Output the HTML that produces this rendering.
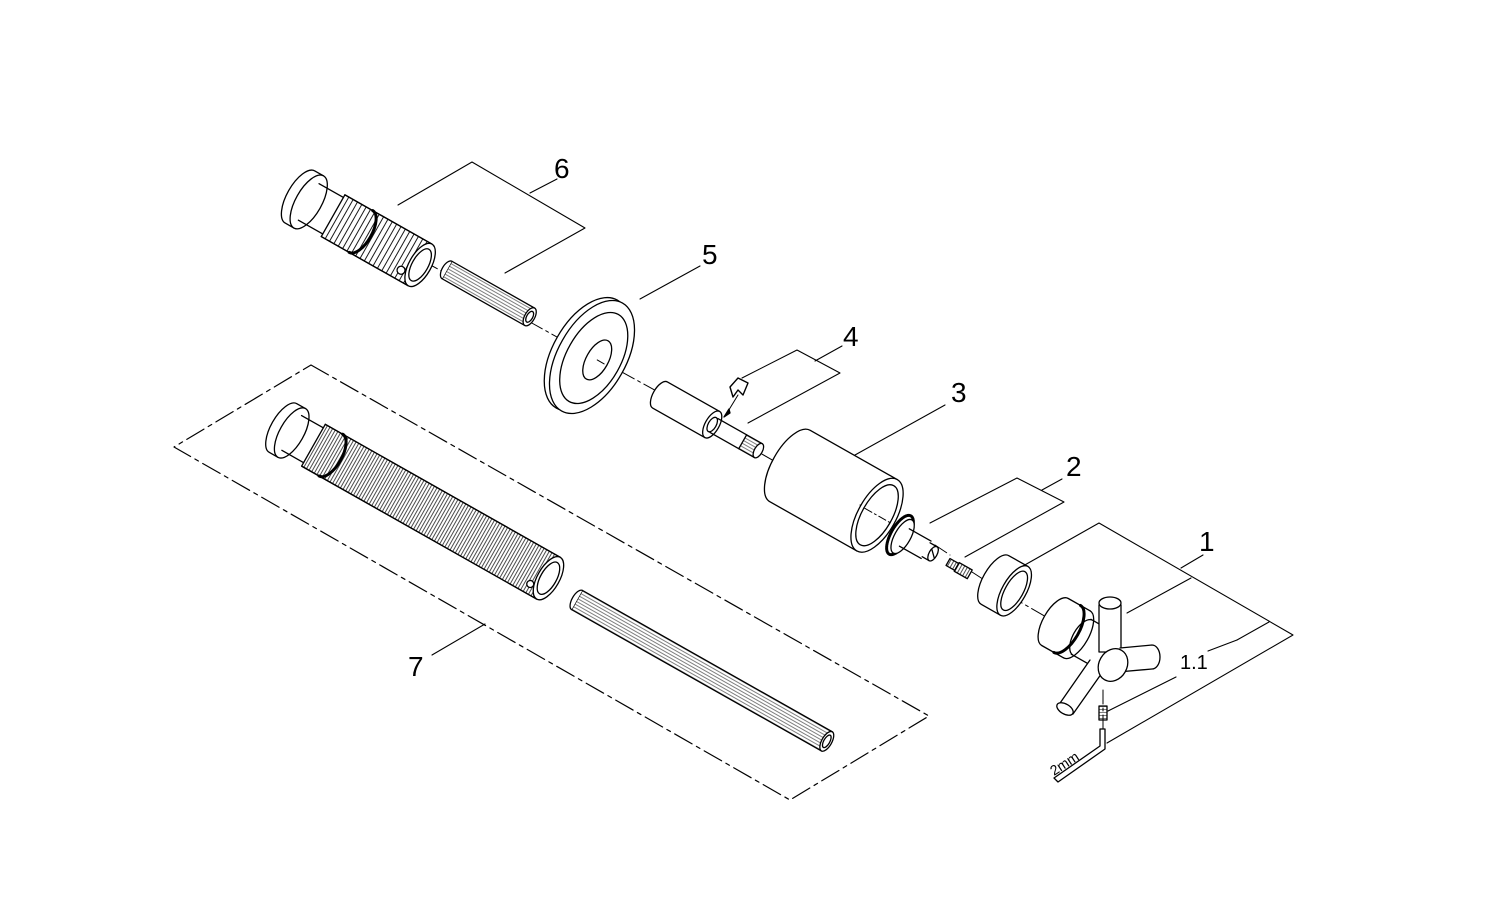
<!DOCTYPE html>
<html><head><meta charset="utf-8"><style>
html,body{margin:0;padding:0;background:#fff;}
svg{display:block}
text{font-family:"Liberation Sans",sans-serif;fill:#000}
</style></head><body>
<svg width="1500" height="899" viewBox="0 0 1500 899" xmlns="http://www.w3.org/2000/svg" fill="none" stroke="#000" stroke-width="1.3" stroke-linejoin="round" stroke-linecap="round">
<defs>
<pattern id="thr" width="5" height="100" patternUnits="userSpaceOnUse"><line x1="2.5" y1="0" x2="2.5" y2="100" stroke="#000" stroke-width="0.9"/></pattern>
<pattern id="thr2" width="3" height="100" patternUnits="userSpaceOnUse"><line x1="1.5" y1="0" x2="1.5" y2="100" stroke="#000" stroke-width="0.7"/></pattern>
<pattern id="flute" width="100" height="3" patternUnits="userSpaceOnUse"><line x1="0" y1="1.5" x2="100" y2="1.5" stroke="#000" stroke-width="0.6"/></pattern>
</defs>

<!-- center lines -->
<g stroke-dasharray="14,4,3,4" stroke-width="1">
<line x1="425" y1="262" x2="445" y2="273"/>
<line x1="530" y1="322" x2="575" y2="347"/>
<line x1="600" y1="360" x2="660" y2="393"/>
<line x1="760" y1="453" x2="790" y2="470"/>
<line x1="860" y1="505" x2="900" y2="527"/>
<line x1="935" y1="545" x2="950" y2="555"/>
<line x1="972" y1="572" x2="992" y2="585"/>
<line x1="1010" y1="596" x2="1060" y2="625"/>
<line x1="1103" y1="690" x2="1103" y2="735"/>
</g>

<!-- Part 6 threaded body -->
<g transform="translate(300,197) rotate(29.5)">
<path d="M0,-30 A13,30 0 0 0 0,30 L10,30 M0,-30 L10,-30"/>
<ellipse cx="10" cy="0" rx="13" ry="30" fill="#fff"/>
<path d="M10,-21 L38,-21 M10,21 L38,21"/>
<rect x="38" y="-24" width="100" height="48" fill="url(#thr)"/>
<path d="M38,-24 L138,-24 M38,24 L138,24"/>
<path d="M70,-24 A11,24 0 0 1 70,24" stroke-width="3"/>
<ellipse cx="138" cy="0" rx="11" ry="24" fill="#fff"/>
<ellipse cx="138" cy="0" rx="8" ry="18"/>
<circle cx="124" cy="14" r="4" fill="#fff"/>
</g>
<!-- Part 6 pin -->
<g transform="translate(447,270) rotate(29.5)">
<rect x="0" y="-10" width="95" height="20" fill="url(#flute)" stroke="#000"/>
<path d="M0,-10 A5,10 0 0 0 0,10" fill="#fff"/>
<ellipse cx="95" cy="0" rx="5" ry="10" fill="#fff"/>
<ellipse cx="95" cy="0" rx="3" ry="6"/>
</g>

<!-- Part 5 rosette -->
<g transform="translate(592,357) rotate(29.5)">
<ellipse cx="-6" cy="0" rx="34" ry="62" fill="#fff"/>
<ellipse cx="0" cy="0" rx="34" ry="62" fill="#fff"/>
<ellipse cx="2" cy="0" rx="27" ry="50"/>
<ellipse cx="6" cy="0" rx="11" ry="22" fill="#fff"/>
<line x1="6" y1="0" x2="17" y2="0" stroke-dasharray="8,3,2,3" stroke-width="1"/>
</g>

<!-- Part 4 -->
<g transform="translate(660,395) rotate(29.5)">
<path d="M0,-15 A7,15 0 0 0 0,15 L60,15 M0,-15 L60,-15" fill="#fff"/>
<ellipse cx="60" cy="0" rx="7" ry="15" fill="#fff"/>
<ellipse cx="60" cy="0" rx="4" ry="8"/>
<path d="M62,-8 L95,-8 M62,8 L95,8"/>
<rect x="95" y="-8" width="18" height="16" fill="url(#flute)" stroke="#000"/>
<ellipse cx="113" cy="0" rx="4" ry="8" fill="#fff"/>
</g>
<path d="M730,387 L738,378 L748,383 L743,395 L738,390 L733,397 Z" fill="#fff" stroke-width="1.4"/>
<line x1="738" y1="395" x2="727" y2="413" stroke-width="1"/>
<path d="M724,417 L729,409 L730,413 Z" fill="#000"/>

<!-- Part 3 sleeve -->
<g transform="translate(790,466) rotate(29.5)">
<path d="M0,-41 A18,41 0 0 0 0,41 L100,41 M0,-41 L100,-41" fill="#fff"/>
<ellipse cx="100" cy="0" rx="19" ry="41" fill="#fff"/>
<ellipse cx="100" cy="0" rx="15" ry="34"/>
<line x1="86" y1="0" x2="115" y2="0" stroke-dasharray="8,3,2,3" stroke-width="1"/>
</g>

<!-- Part 2 -->
<g transform="translate(900,535) rotate(29.5)">
<ellipse cx="0" cy="0" rx="9" ry="22" fill="#fff" stroke-width="3" stroke-dasharray="1.2,1"/>
<ellipse cx="3" cy="0" rx="8" ry="19" fill="#fff"/>
<path d="M5,-10 L30,-10 M5,10 L30,10"/>
<path d="M30,-8 L38,-8 M30,8 L38,8"/>
<ellipse cx="38" cy="0" rx="4" ry="8" fill="#fff"/>
<line x1="35" y1="-3" x2="41" y2="3"/>
</g>
<!-- screw -->
<g transform="translate(948,562) rotate(29.5)">
<rect x="0" y="-4" width="10" height="8" fill="url(#thr2)" stroke="#000"/>
<rect x="10" y="-5" width="15" height="10" fill="url(#thr2)" stroke="#000"/>
</g>

<!-- ring -->
<g transform="translate(995,580) rotate(29.5)">
<path d="M0,-28 A12,28 0 0 0 0,28 L22,28 M0,-28 L22,-28" fill="#fff"/>
<ellipse cx="22" cy="0" rx="12" ry="28" fill="#fff"/>
<ellipse cx="22" cy="0" rx="9" ry="22"/>
</g>

<!-- handle -->
<g transform="translate(1055,622) rotate(29.5)">
<path d="M0,-27 A12,27 0 0 0 0,27 L25,27 M0,-27 L25,-27" fill="#fff"/>
<path d="M14,-27 A12,27 0 0 1 14,27" stroke-width="3"/>
<path d="M25,-27 A12,27 0 0 1 25,27"/>
<path d="M30,-20 L48,-20 M30,20 L48,20 M32,-20 A10,20 0 0 0 32,20"/>
</g>
<path d="M1099,605 L1099,652 L1121,652 L1121,605" fill="#fff"/>
<ellipse cx="1110" cy="603" rx="11" ry="6" fill="#fff"/>
<path d="M1120,648 L1152,645 A8,12 0 0 1 1152,669 L1118,672" fill="#fff"/>
<path d="M1090,660 L1058,706 L1073,714 L1104,670" fill="#fff"/>
<ellipse cx="1065" cy="709" rx="9" ry="5" transform="rotate(30 1065 709)" fill="#fff"/>
<ellipse cx="1113" cy="665" rx="14" ry="17" transform="rotate(30 1113 665)" fill="#fff"/>
<!-- grub screw & key -->
<rect x="1099" y="706" width="8" height="14" fill="url(#flute)" stroke="#000"/>
<path d="M1100,729 L1105,729 L1105,749 L1058,782 L1054,778 L1100,746 Z" fill="#fff"/>
<text x="1054" y="776" font-size="14" stroke="none" transform="rotate(-33 1054 776)">2mm</text>

<!-- Part 7 dashed box -->
<polygon points="311,365 929,716 790,800 174,447" stroke-dasharray="20,5,4,5" stroke-width="1.2"/>
<!-- part 7 threaded long -->
<g transform="translate(283,428) rotate(29.5)">
<path d="M0,-28 A12,28 0 0 0 0,28 L10,28 M0,-28 L10,-28"/>
<ellipse cx="10" cy="0" rx="12" ry="28" fill="#fff"/>
<path d="M10,-20 L35,-20 M10,20 L35,20"/>
<rect x="35" y="-24" width="270" height="48" fill="url(#thr2)"/>
<path d="M35,-24 L305,-24 M35,24 L305,24"/>
<path d="M55,-24 A11,24 0 0 1 55,24" stroke-width="3"/>
<ellipse cx="305" cy="0" rx="11" ry="24" fill="#fff"/>
<ellipse cx="305" cy="0" rx="8" ry="18"/>
<circle cx="292" cy="14" r="3.5" fill="#fff"/>
</g>
<!-- part 7 rod -->
<g transform="translate(577,600) rotate(29.5)">
<rect x="0" y="-11" width="287" height="22" fill="url(#flute)" stroke="#000"/>
<path d="M0,-11 A5,11 0 0 0 0,11" fill="#fff"/>
<ellipse cx="287" cy="0" rx="5" ry="11" fill="#fff"/>
<ellipse cx="287" cy="0" rx="3" ry="7"/>
</g>

<!-- leaders -->
<g stroke-width="1.1">
<polyline points="398,205 472,162 585,228 505,273"/>
<line x1="530" y1="193" x2="557" y2="179"/>
<line x1="640" y1="299" x2="700" y2="266"/>
<polyline points="742,378 797,350 840,373 748,423"/>
<line x1="815" y1="361" x2="842" y2="346"/>
<line x1="855" y1="455" x2="945" y2="405"/>
<polyline points="930,523 1017,478 1064,502 965,557"/>
<line x1="1042" y1="490" x2="1062" y2="479"/>
<polyline points="1023,566 1099,523 1293,635 1107,743"/>
<line x1="1181" y1="568" x2="1203" y2="555"/>
<line x1="1127" y1="613" x2="1191" y2="578"/>
<line x1="1269" y1="622" x2="1237" y2="640"/>
<line x1="1208" y1="651" x2="1237" y2="640"/>
<line x1="1176" y1="677" x2="1108" y2="711"/>
<line x1="432" y1="655" x2="485" y2="624"/>
</g>

<g stroke="none" font-size="28">
<text x="554" y="178">6</text>
<text x="702" y="264">5</text>
<text x="843" y="346">4</text>
<text x="951" y="402">3</text>
<text x="1066" y="476">2</text>
<text x="1199" y="551">1</text>
<text x="408" y="676">7</text>
</g>
<text x="1180" y="669" font-size="20" stroke="none">1.1</text>
</svg>
</body></html>
